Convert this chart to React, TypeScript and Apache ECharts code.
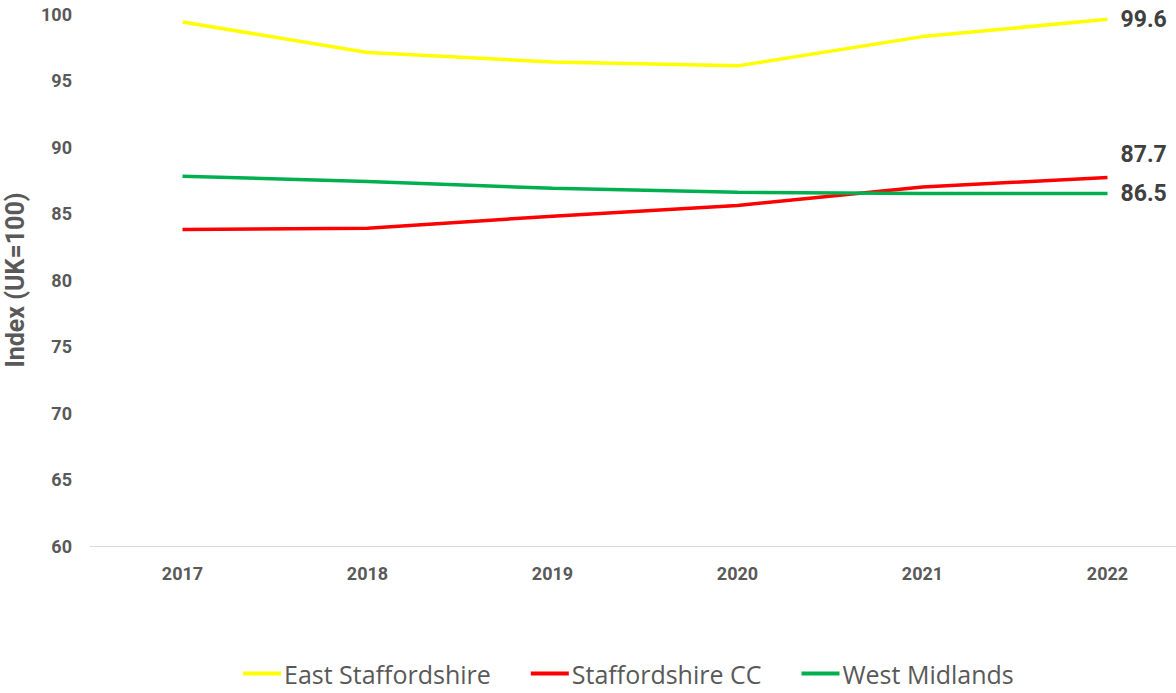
import React, { useEffect, useRef } from "react";
import * as echarts from "echarts";

const years = ["2017", "2018", "2019", "2020", "2021", "2022"];
const eastStaffordshire = [99.4, 97.1, 96.4, 96.1, 98.3, 99.6];
const staffordshireCC = [83.8, 83.9, 84.8, 85.6, 87.0, 87.7];
const westMidlands = [87.8, 87.4, 86.9, 86.6, 86.5, 86.5];

export default function App() {
  const ref = useRef<HTMLDivElement>(null);
  useEffect(() => {
    const chart = echarts.init(ref.current!, null, { renderer: "svg" });
    const labelStyle = (dy: number) => ({
      show: true,
      formatter: (p: any) => p.value.toFixed(1),
      fontFamily: "Roboto, 'Open Sans', sans-serif",
      fontWeight: "bold" as const,
      fontSize: 23,
      color: "#404040",
      distance: 13,
      offset: [0, dy],
    });
    const mk = (name: string, data: number[], color: string, dy: number) => ({
      name,
      type: "line",
      data,
      symbol: "none",
      lineStyle: { color, width: 3.5 },
      itemStyle: { color },
      endLabel: labelStyle(dy),
    });
    chart.setOption({
      animation: false,
      grid: {
        left: 90,
        width: 1110,
        top: 14,
        bottom: 147,
        containLabel: false,
        outerBoundsMode: "none",
      },
      legend: {
        bottom: 2,
        left: 238,
        icon: "rect",
        itemWidth: 38,
        itemHeight: 4,
        itemGap: 40,
        textStyle: {
          fontFamily: "'Open Sans', sans-serif",
          fontSize: 25,
          color: "#595959",
          padding: [0, 0, 0, -2],
        },
        data: ["East Staffordshire", "Staffordshire CC", "West Midlands"],
      },
      xAxis: {
        type: "category",
        data: years,
        boundaryGap: true,
        axisLine: { lineStyle: { color: "#d9d9d9", width: 1 } },
        axisTick: { show: false },
        axisLabel: {
          fontFamily: "Roboto, Lato, sans-serif",
          fontWeight: "bold",
          fontSize: 18,
          color: "#595959",
          margin: 18,
        },
      },
      yAxis: {
        type: "value",
        min: 60,
        max: 100,
        interval: 5,
        name: "Index (UK=100)",
        nameLocation: "middle",
        nameGap: 62,
        nameTextStyle: {
          fontFamily: "Roboto, Lato, sans-serif",
          fontWeight: "bold",
          fontSize: 25,
          color: "#595959",
        },
        axisLine: { show: false },
        axisTick: { show: false },
        splitLine: { show: false },
        axisLabel: {
          fontFamily: "Roboto, Lato, sans-serif",
          fontWeight: "bold",
          fontSize: 18,
          color: "#595959",
          margin: 18,
        },
      },
      series: [
        mk("East Staffordshire", eastStaffordshire, "#FFFF00", 0),
        mk("Staffordshire CC", staffordshireCC, "#FF0000", -23),
        mk("West Midlands", westMidlands, "#00B050", 0),
      ],
    });
    return () => chart.dispose();
  }, []);
  return (
    <div
      ref={ref}
      style={{ position: "absolute", left: 0, top: 0, width: 1176, height: 693 }}
    />
  );
}
